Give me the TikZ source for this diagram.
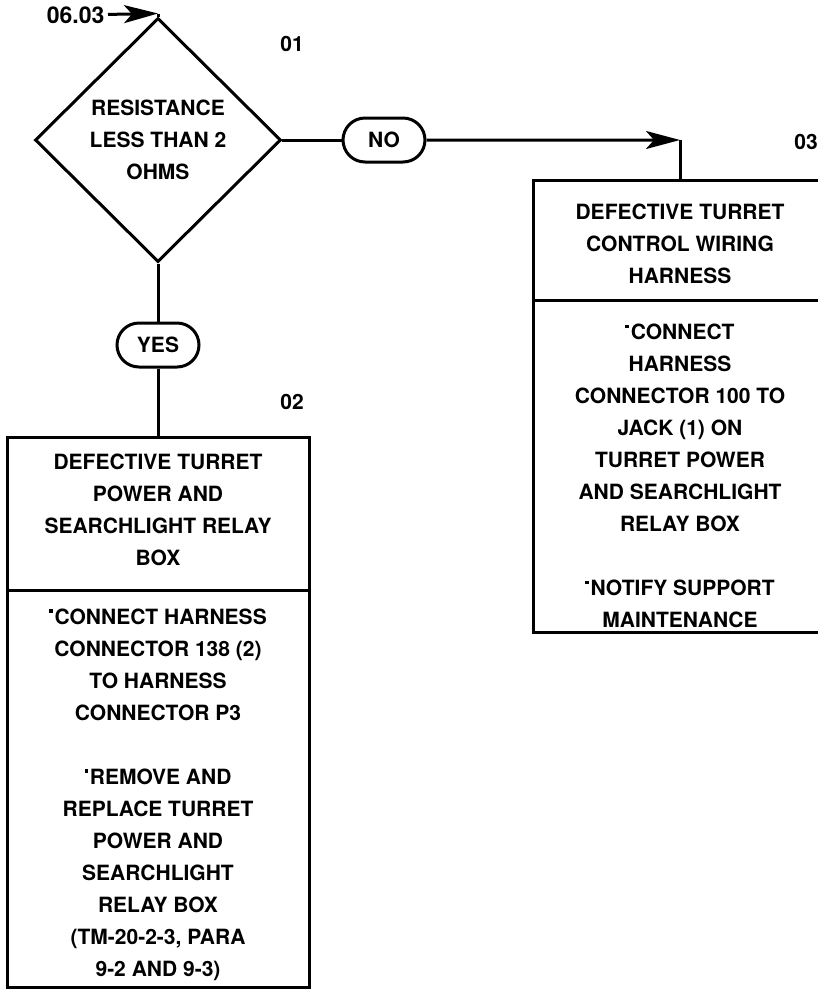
\documentclass[tikz,border=0pt]{standalone}
\usepackage{fontspec}
\setmainfont{TeX Gyre Heros}
\usetikzlibrary{positioning, arrows.meta, shapes.geometric, shapes.misc}
\newcommand{\bdot}{\raisebox{0.55em}{\rule{3.8pt}{3.8pt}}\hspace{1.5pt}}
\newcommand{\padtop}[1]{\rule{0pt}{#1}}
\newcommand{\padbot}[1]{\rule[-#1]{0pt}{#1}}
\tikzset{
  txt/.style={font=\bfseries\fontsize{21}{32}\selectfont, align=center},
  decision/.style={diamond, draw, line width=3pt, inner sep=0pt, minimum width=246pt, minimum height=244pt, txt},
  answer/.style={rounded rectangle, draw, line width=3pt, minimum width=82pt, minimum height=44pt, inner sep=0pt, txt},
  stepbox/.style={rectangle, draw, line width=3pt, outer sep=0pt, inner sep=0pt, txt},
  stepnum/.style={font=\bfseries\fontsize{21}{24}\selectfont},
  link/.style={line width=3pt},
  flow/.style={-{Stealth[length=34pt, width=18pt, inset=8pt]}, line width=3pt},
}

\begin{document}
\begin{tikzpicture}[x=1pt, y=-1pt]
  \useasboundingbox (0,0) rectangle (818,989);

  \node[decision] (dia01) at (158,140) {RESISTANCE\\LESS THAN 2\\OHMS};
  \node[stepnum] (num01) at (292,44) {01};
  \node[stepnum, anchor=east, font=\bfseries\fontsize{23}{24}\selectfont] (ref0603) at (108,15) {06.03};
  \coordinate (top01) at ([yshift=3pt]dia01.north);

  \node[answer] (no) at (384,140) {NO};
  \node[answer] (yes) at (158,345) {YES};

  % step 02
  \node[stepnum] (num02) at (292,402) {02};
  \node[stepbox, anchor=north, minimum width=302pt, minimum height=153pt] (box02head) at (158,437)
    {DEFECTIVE TURRET\\POWER AND\\SEARCHLIGHT RELAY\\BOX\padbot{8pt}};
  \node[stepbox, below=0pt of box02head, minimum width=302pt, minimum height=397pt] (box02body)
    {\padtop{28pt}\bdot CONNECT HARNESS\\CONNECTOR 138 (2)\\TO HARNESS\\CONNECTOR P3\\[32pt]
     \bdot REMOVE AND\\REPLACE TURRET\\POWER AND\\SEARCHLIGHT\\RELAY BOX\\(TM-20-2-3, PARA\\9-2 AND 9-3)};

  % step 03
  \node[stepnum] (num03) at (806,142) {03};
  \node[stepbox, anchor=north, minimum width=294pt, minimum height=120pt] (box03head) at (680,180)
    {\padtop{23pt}DEFECTIVE TURRET\\CONTROL WIRING\\HARNESS};
  \node[stepbox, below=0pt of box03head, minimum width=294pt, minimum height=332pt] (box03body)
    {\padtop{36pt}\bdot CONNECT\\HARNESS\\CONNECTOR 100 TO\\JACK (1) ON\\TURRET POWER\\AND SEARCHLIGHT\\RELAY BOX\\[32pt]
     \bdot NOTIFY SUPPORT\\MAINTENANCE};
  \coordinate (c03) at (box03head.north |- no.east);

  \draw[flow] (ref0603) -- (top01);
  \draw[link] (top01) -- (dia01.north);
  \draw[link] (dia01) -- (no);
  \draw[flow] (no) -- (c03);
  \draw[link] (c03) -- (box03head);
  \draw[link] (dia01) -- (yes);
  \draw[link] (yes) -- (box02head);
\end{tikzpicture}
\end{document}
